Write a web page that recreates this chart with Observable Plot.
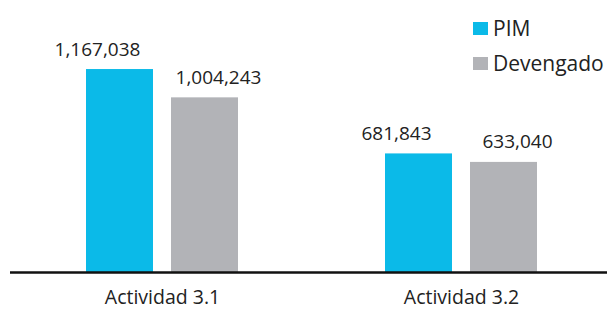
<!DOCTYPE html>
<html>
<head>
<meta charset="utf-8">
<script src="https://cdn.jsdelivr.net/npm/d3@7"></script>
<script src="https://cdn.jsdelivr.net/npm/@observablehq/plot@0.6"></script>
<style>
  html, body { margin: 0; padding: 0; background: #fff; }
  #wrap { position: relative; width: 607px; height: 310px; font-family: "Open Sans", sans-serif; }
  #legend { position: absolute; left: 473px; top: 10px; font-size: 21px; color: #222; }
  .item { display: flex; align-items: center; height: 35px; }
  .sw { width: 15px; height: 13px; margin-right: 5px; margin-top: 2px; }
</style>
</head>
<body>
<div id="wrap"><div id="legend"></div></div>
<script>
const groups = ["Actividad 3.1", "Actividad 3.2"];
const seriesNames = ["PIM", "Devengado"];
const pimValues = [1167038, 681843];
const devengadoValues = [1004243, 633040];
const seriesColors = ["#0bbae8", "#b2b3b7"];

const data = groups.flatMap((g, i) => [
  {group: g, series: seriesNames[0], value: pimValues[i]},
  {group: g, series: seriesNames[1], value: devengadoValues[i]}
]);
const pim = data.filter(d => d.series === seriesNames[0]);
const dev = data.filter(d => d.series === seriesNames[1]);
const fmt = d3.format(",");

const chart = Plot.plot({
  width: 607,
  height: 310,
  marginTop: 0,
  marginBottom: 38,
  marginLeft: 10,
  marginRight: 0,
  style: {fontFamily: "Open Sans, sans-serif", background: "#fff", color: "#222"},
  x: {type: "band", domain: groups, paddingInner: 0.493, paddingOuter: 0.2415, align: 0.519, label: null},
  y: {domain: [0, 1564000], axis: null},
  marks: [
    Plot.axisX({tickSize: 0, tickPadding: 18, fontSize: 19.5, label: null, fill: "#222"}),
    Plot.barY(pim, {x: "group", y: "value", fill: seriesColors[0], insetRight: 85}),
    Plot.barY(dev, {x: "group", y: "value", fill: seriesColors[1], insetLeft: 85}),
    Plot.ruleY([0], {stroke: "#111", strokeWidth: 2.5}),
    Plot.text(pim, {x: "group", y: "value", text: d => fmt(d.value), dx: -65, dy: -14, lineAnchor: "bottom", fontSize: 19, fill: "#222"}),
    Plot.text(dev, {x: "group", y: "value", text: d => fmt(d.value), dx: 56, dy: -14, lineAnchor: "bottom", fontSize: 19, fill: "#222"})
  ]
});
document.getElementById("wrap").prepend(chart);

const legend = document.getElementById("legend");
seriesNames.forEach((name, i) => {
  const item = document.createElement("div");
  item.className = "item";
  const sw = document.createElement("span");
  sw.className = "sw";
  sw.style.background = seriesColors[i];
  const label = document.createElement("span");
  label.textContent = name;
  item.append(sw, label);
  legend.append(item);
});
</script>
</body>
</html>
